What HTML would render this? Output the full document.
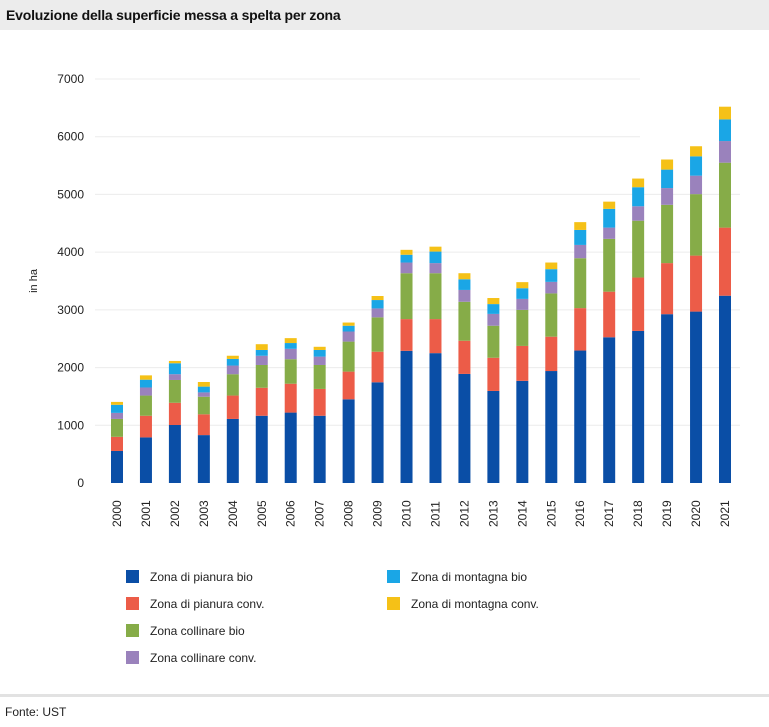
<!DOCTYPE html>
<html><head><meta charset="utf-8">
<style>
html,body{margin:0;padding:0;background:#fff;}
body{width:769px;height:727px;position:relative;overflow:hidden;font-family:"Liberation Sans",sans-serif;}
</style></head>
<body>
<div style="position:absolute;left:0;top:0;width:769px;height:30px;background:#ececec;"></div>
<div style="position:absolute;left:6px;top:7px;font-weight:bold;font-size:14px;letter-spacing:-0.2px;color:#111;">Evoluzione della superficie messa a spelta per zona</div>
<div style="position:absolute;left:0;top:694px;width:769px;height:3px;background:#e2e2e2;"></div>
<div style="position:absolute;left:5px;top:705px;font-size:12px;color:#222;">Fonte: UST</div>
<svg id="chart" width="769" height="727" style="position:absolute;left:0;top:0;" xmlns="http://www.w3.org/2000/svg"></svg>
<script>
const years=["2000","2001","2002","2003","2004","2005","2006","2007","2008","2009","2010","2011","2012","2013","2014","2015","2016","2017","2018","2019","2020","2021"];
const pianuraBio=[555,790,1005,830,1110,1165,1220,1165,1450,1745,2290,2250,1890,1595,1770,1940,2295,2525,2635,2925,2970,3245];
const pianuraConv=[245,375,385,360,405,485,500,465,480,530,550,590,575,575,605,595,735,790,925,885,970,1180];
const collinareBio=[310,350,395,305,370,395,425,415,520,595,795,795,675,555,625,750,865,915,985,1010,1065,1125];
const collinareConv=[105,140,100,75,150,160,180,145,175,155,185,175,205,205,190,200,230,195,250,290,320,375];
const montagnaBio=[140,135,190,100,115,100,100,115,100,145,135,200,185,170,185,220,260,325,330,320,335,375];
const montagnaConv=[50,75,40,80,55,100,85,55,55,70,85,85,105,105,105,115,135,125,150,175,175,220];
const yTicks=[0,1000,2000,3000,4000,5000,6000,7000];
const seriesNames=["Zona di pianura bio","Zona di pianura conv.","Zona collinare bio","Zona collinare conv.","Zona di montagna bio","Zona di montagna conv."];
const seriesData=[pianuraBio,pianuraConv,collinareBio,collinareConv,montagnaBio,montagnaConv];
const colors=["#0a4ea6","#ec5c48","#86ac48","#9a82bc","#1aa6e6","#f5c117"];
const keys=["pianura-bio","pianura-conv","collinare-bio","collinare-conv","montagna-bio","montagna-conv"];

const svg=document.getElementById('chart');
const NS="http://www.w3.org/2000/svg";
const y0=483, yTop=79, yMax=7000;
function yScale(v){return y0-(v/yMax)*(y0-yTop);}
const x0=117, x1=725;
function xScale(i){return x0+i*(x1-x0)/(years.length-1);}
function mk(tag,attrs){const e=document.createElementNS(NS,tag);for(const k in attrs)e.setAttribute(k,attrs[k]);svg.appendChild(e);return e;}

yTicks.forEach(t=>{
  const y=yScale(t);
  if(t>0){
    const g=mk('line',{x1:95,x2:t>=6000?640:740,y1:y,y2:y,stroke:'#ececec','stroke-width':1});
    
    
  }
  const l=mk('text',{x:84,y:y+4,'text-anchor':'end','font-size':12,fill:'#222','font-family':'Liberation Sans, sans-serif'});
  l.textContent=t;
  
  
});
const yt=mk('text',{x:0,y:0,transform:'translate(37,281) rotate(-90)','text-anchor':'middle','font-size':11,fill:'#222','font-family':'Liberation Sans, sans-serif'});
yt.textContent='in ha';



const bw=12;
years.forEach((yr,i)=>{
  const cx=xScale(i);
  let cum=0;
  seriesData.forEach((arr,s)=>{
    const v=arr[i];
    const yA=yScale(cum+v), yB=yScale(cum);
    const r=mk('rect',{x:cx-bw/2,y:yA,width:bw,height:Math.max(0,yB-yA),fill:colors[s]});
    
    
    cum+=v;
  });
  const t=mk('text',{x:0,y:0,transform:'translate('+(cx+4)+',527) rotate(-90)','font-size':12,fill:'#222','font-family':'Liberation Sans, sans-serif'});
  t.textContent=yr;
  
  
});

const legPos=[[126,576],[126,603],[126,630],[126,657],[387,576],[387,603]];
seriesNames.forEach((n,s)=>{
  const [lx,ly]=legPos[s];
  const sq=mk('rect',{x:lx,y:ly-6,width:13,height:13,fill:colors[s]});
  
  
  const tx=mk('text',{x:lx+24,y:ly+5,'font-size':12,fill:'#222','font-family':'Liberation Sans, sans-serif'});
  tx.textContent=n;
  
  
});
</script>
</body></html>
